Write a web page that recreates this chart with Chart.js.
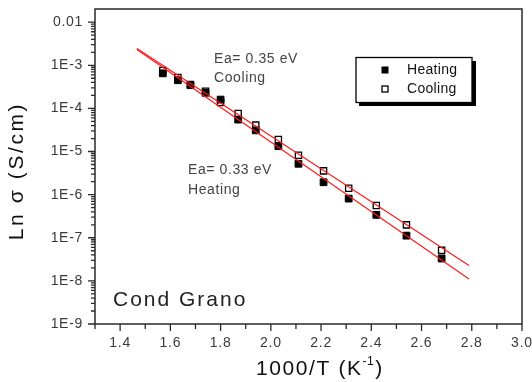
<!DOCTYPE html>
<html>
<head>
<meta charset="utf-8">
<script src="https://cdn.jsdelivr.net/npm/chart.js@4.4.1/dist/chart.umd.min.js"></script>
<style>
html, body { margin: 0; padding: 0; background: #fff; }
</style>
</head>
<body>
<canvas id="c" width="532" height="382"></canvas>
<script>
// 1000/T values (K^-1) shared by both runs
var invT = [1.57, 1.63, 1.68, 1.74, 1.80, 1.87, 1.94, 2.03, 2.11, 2.21, 2.31, 2.42, 2.54, 2.68];
// conductivity, S/cm
var heating = [6.5e-4, 4.5e-4, 3.45e-4, 2.3e-4, 1.6e-4, 5.5e-5, 3.1e-5, 1.33e-5, 5.2e-6, 1.94e-6, 8.1e-7, 3.4e-7, 1.12e-7, 3.3e-8];
var cooling = [7.6e-4, 5.2e-4, 3.6e-4, 2.5e-4, 1.37e-4, 7.6e-5, 4.1e-5, 1.9e-5, 8.2e-6, 3.56e-6, 1.41e-6, 5.6e-7, 1.99e-7, 5.1e-8];
// linear fits (end points)
var fitX = [1.467, 2.789];
var heatingFit = [2.33e-3, 1.11e-8];
var coolingFit = [2.45e-3, 2.26e-8];
// axes
var xTicks = [1.4, 1.6, 1.8, 2.0, 2.2, 2.4, 2.6, 2.8, 3.0];
var yTicks = [1e-9, 1e-8, 1e-7, 1e-6, 1e-5, 1e-4, 1e-3, 1e-2];
var yTickLabels = ['1E-9', '1E-8', '1E-7', '1E-6', '1E-5', '1E-4', '1E-3', '0.01'];

function pts(xs, ys) {
	return xs.map(function (x, i) { return { x: x, y: ys[i] }; });
}

var FONT = 'Arial, "Liberation Sans", sans-serif';

function txt(ctx, s, x, y, size, color, spacing, align) {
	ctx.font = size + 'px ' + FONT;
	ctx.fillStyle = color;
	ctx.letterSpacing = (spacing || 0) + 'px';
	ctx.textAlign = align || 'left';
	ctx.textBaseline = 'middle';
	ctx.fillText(s, x, y);
}

/* frame, tick marks, labels, legend and notes */
var decor = {
	id: 'decor',
	afterDraw: function (chart) {
		var ctx = chart.ctx, a = chart.chartArea;
		var xs = chart.scales.x, ys = chart.scales.y;
		ctx.save();
		ctx.strokeStyle = '#2a2a2a';
		ctx.lineWidth = 1.5;
		ctx.strokeRect(a.left, a.top, a.right - a.left, a.bottom - a.top);

		ctx.lineWidth = 1.3;
		ctx.beginPath();
		// y axis, log ticks
		yTicks.forEach(function (v, i) {
			var y = ys.getPixelForValue(v);
			ctx.moveTo(a.left - 7, y); ctx.lineTo(a.left, y);
			if (i < yTicks.length - 1) {
				for (var m = 2; m <= 9; m++) {
					var ym = ys.getPixelForValue(v * m);
					ctx.moveTo(a.left - 4, ym); ctx.lineTo(a.left, ym);
				}
			}
		});
		// x axis ticks
		xTicks.forEach(function (v, i) {
			var x = xs.getPixelForValue(v);
			ctx.moveTo(x, a.bottom); ctx.lineTo(x, a.bottom + 7);
			var xm = xs.getPixelForValue(v - 0.1);
			ctx.moveTo(xm, a.bottom); ctx.lineTo(xm, a.bottom + 5);
		});
		ctx.stroke();

		yTicks.forEach(function (v, i) {
			txt(ctx, yTickLabels[i], a.left - 12, ys.getPixelForValue(v), 14, '#3a3a3a', 0.7, 'right');
		});
		xTicks.forEach(function (v) {
			txt(ctx, v.toFixed(1), xs.getPixelForValue(v), a.bottom + 19, 14, '#3a3a3a', 0.8, 'center');
		});

		// axis titles
		txt(ctx, '1000/T (K', 256, 369, 21, '#111', 1.6, 'left');
		var w = ctx.measureText('1000/T (K').width;
		txt(ctx, '-1', 256 + w, 362, 12, '#111', 0.5, 'left');
		var w2 = ctx.measureText('-1').width;
		txt(ctx, ')', 256 + w + w2 + 1, 369, 21, '#111', 1.6, 'left');

		ctx.save();
		ctx.translate(17, 171);
		ctx.rotate(-Math.PI / 2);
		txt(ctx, 'Ln \u03c3 (S/cm)', 0, 0, 21, '#111', 2.6, 'center');
		ctx.restore();

		// legend box with drop shadow
		ctx.fillStyle = '#000';
		ctx.fillRect(359, 61, 117, 45);
		ctx.fillStyle = '#fff';
		ctx.fillRect(356, 57.5, 116, 45);
		ctx.lineWidth = 1.3;
		ctx.strokeStyle = '#000';
		ctx.strokeRect(356, 57.5, 116, 45);
		ctx.fillStyle = '#000';
		ctx.fillRect(381.5, 66.5, 7, 7);
		ctx.strokeRect(382, 86, 6, 6);
		txt(ctx, 'Heating', 407, 70.5, 14, '#111', 0.3);
		txt(ctx, 'Cooling', 407, 89.5, 14, '#111', 0.3);

		// notes
		txt(ctx, 'Ea= 0.35 eV', 214, 59, 14, '#444', 0.6);
		txt(ctx, 'Cooling', 214, 78, 14, '#444', 0.6);
		txt(ctx, 'Ea= 0.33 eV', 188, 170, 14, '#444', 0.6);
		txt(ctx, 'Heating', 188, 190, 14, '#444', 0.6);
		txt(ctx, 'Cond Grano', 113, 300, 21, '#222', 2);
		ctx.restore();
	}
};

new Chart(document.getElementById('c'), {
	type: 'scatter',
	data: {
		datasets: [
			{
				label: 'Heating fit', type: 'line', data: pts(fitX, heatingFit),
				borderColor: '#ff1a1a', borderWidth: 1.2, pointRadius: 0, order: 0
			},
			{
				label: 'Cooling fit', type: 'line', data: pts(fitX, coolingFit),
				borderColor: '#ff1a1a', borderWidth: 1.2, pointRadius: 0, order: 0
			},
			{
				label: 'Heating', data: pts(invT, heating), pointStyle: 'rect',
				pointRadius: 4.8, backgroundColor: '#000', borderColor: '#000', borderWidth: 1, order: 1
			},
			{
				label: 'Cooling', data: pts(invT, cooling), pointStyle: 'rect',
				pointRadius: 4.4, backgroundColor: '#fff', borderColor: '#000', borderWidth: 1.3, order: 2
			}
		]
	},
	options: {
		responsive: false,
		animation: false,
		layout: { padding: { left: 0, right: 10, top: 9, bottom: 0 } },
		plugins: { legend: { display: false }, tooltip: { enabled: false } },
		scales: {
			x: {
				type: 'linear', min: 1.3, max: 3.0,
				grid: { display: false }, border: { display: false },
				ticks: { display: false },
				afterFit: function (s) { s.height = 58; }
			},
			y: {
				type: 'logarithmic', min: 1e-9, max: 0.0202,
				grid: { display: false }, border: { display: false },
				ticks: { display: false },
				afterFit: function (s) { s.width = 95; }
			}
		}
	},
	plugins: [decor]
});
</script>
</body>
</html>
